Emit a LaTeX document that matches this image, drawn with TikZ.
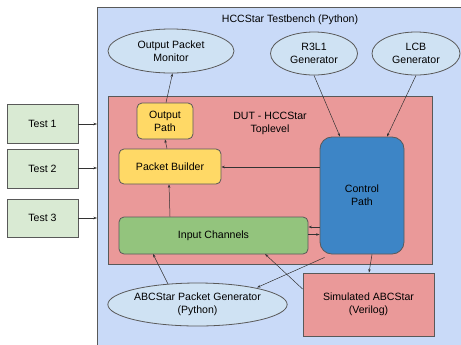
\documentclass[tikz,border=0pt]{standalone}
\usepackage{fontspec}
\setmainfont{Liberation Sans}
\usetikzlibrary{shapes.geometric,arrows.meta}
\definecolor{bgblue}{HTML}{C9DAF8}
\definecolor{dutred}{HTML}{EA9999}
\definecolor{ylw}{HTML}{FFD966}
\definecolor{grn}{HTML}{93C47D}
\definecolor{ctl}{HTML}{3D85C6}
\definecolor{ell}{HTML}{CFE2F3}
\definecolor{tst}{HTML}{D9EAD3}
\definecolor{edge}{HTML}{595959}
\newcommand{\dfont}{\fontsize{10.6}{13.3}\selectfont}
\tikzset{
  base/.style={draw=edge, line width=0.8pt, font=\dfont, align=center, inner sep=0pt},
  oval/.style={base, ellipse, fill=ell},
  rbox/.style={base, rectangle, rounded corners=5pt},
  sbox/.style={base, rectangle},
  lbl/.style={font=\dfont, align=center, inner sep=0pt},
  conn/.style={draw=black!80, line width=0.5pt, -{Stealth[length=3.5pt,width=2.5pt]}},
}
\begin{document}
\begin{tikzpicture}[x=1bp,y=-1bp]
\useasboundingbox (0,0) rectangle (461,344);
\clip (0,0) rectangle (461,344);
% testbench background
\draw[draw=edge, line width=0.8pt, fill=bgblue] (97,7) rectangle (480,360);
\node[lbl] (tbtitle) at (290,20) {HCCStar Testbench (Python)};
% DUT
\node[sbox, fill=dutred, minimum width=324bp, minimum height=168bp] (dut) at (270,180) {};
\node[lbl] (duttitle) at (270,123.5) {DUT - HCCStar\\Toplevel};
% ellipses
\node[oval, minimum width=126bp, minimum height=44bp] (opm) at (171,51) {Output Packet\\Monitor};
\node[oval, minimum width=87bp, minimum height=43bp] (r3l1) at (314,53.5) {R3L1\\Generator};
\node[oval, minimum width=88bp, minimum height=43bp] (lcb) at (416,53.5) {LCB\\Generator};
\node[oval, minimum width=179bp, minimum height=43bp] (abcgen) at (197.5,304.5) {ABCStar Packet Generator\\(Python)};
% inner boxes
\node[rbox, fill=ylw, minimum width=56bp, minimum height=36bp] (opath) at (165,121) {Output\\Path};
\node[rbox, fill=ylw, minimum width=102bp, minimum height=35bp] (pbuild) at (170,166.5) {Packet Builder};
\node[rbox, fill=grn, minimum width=189bp, minimum height=37bp] (inch) at (213.5,235.5) {Input Channels};
\node[base, rectangle, rounded corners=12pt, fill=ctl, minimum width=84bp, minimum height=117bp] (ctrl) at (362,195.5) {};
\node[lbl] (ctrltxt) at (362,195) {Control\\Path};
\node[sbox, fill=dutred, minimum width=131bp, minimum height=63bp] (sim) at (368.5,304.5) {Simulated ABCStar\\(Verilog)};
% tests
\node[sbox, fill=tst, minimum width=71bp, minimum height=39bp] (t1) at (42.5,123.5) {Test 1};
\node[sbox, fill=tst, minimum width=71bp, minimum height=39bp] (t2) at (42.5,168.5) {Test 2};
\node[sbox, fill=tst, minimum width=71bp, minimum height=38bp] (t3) at (42.5,218) {Test 3};
\coordinate (e1) at (97,124);
\coordinate (e2) at (97,168);
\coordinate (e3) at (97,218);
% connectors
\draw[conn] (t1.east |- e1) -- (e1);
\draw[conn] (t2.east |- e2) -- (e2);
\draw[conn] (t3.east |- e3) -- (e3);
\draw[conn] ([xshift=1bp]opath.north) -- ([xshift=1.5bp]opm.south);
\draw[conn] ([xshift=2bp]pbuild.north west -| opath.south) -- (opath.south);
\draw[conn] (inch.north -| 170,0) -- (pbuild.south -| 169,0);
\draw[conn] (ctrl.west |- 0,167) -- (pbuild.east |- 0,167);
\draw[conn] (r3l1.south) -- ([xshift=-22bp]ctrl.north);
\draw[conn] (lcb.south) -- ([xshift=25bp]ctrl.north);
\draw[conn] (ctrl.west |- 0,227) -- (inch.east |- 0,227);
\draw[conn] (inch.east |- 0,234.5) -- (ctrl.west |- 0,234.5);
\draw[conn] ([xshift=10bp]ctrl.south) -- ([xshift=0.5bp]sim.north);
\draw[conn] ([xshift=5bp,yshift=-3bp]ctrl.south west) -- (257,287.5);
\draw[conn] (sim.west |- 0,289) -- (265,254);
\draw[conn] (168,284) -- (153,254);
\end{tikzpicture}
\end{document}
